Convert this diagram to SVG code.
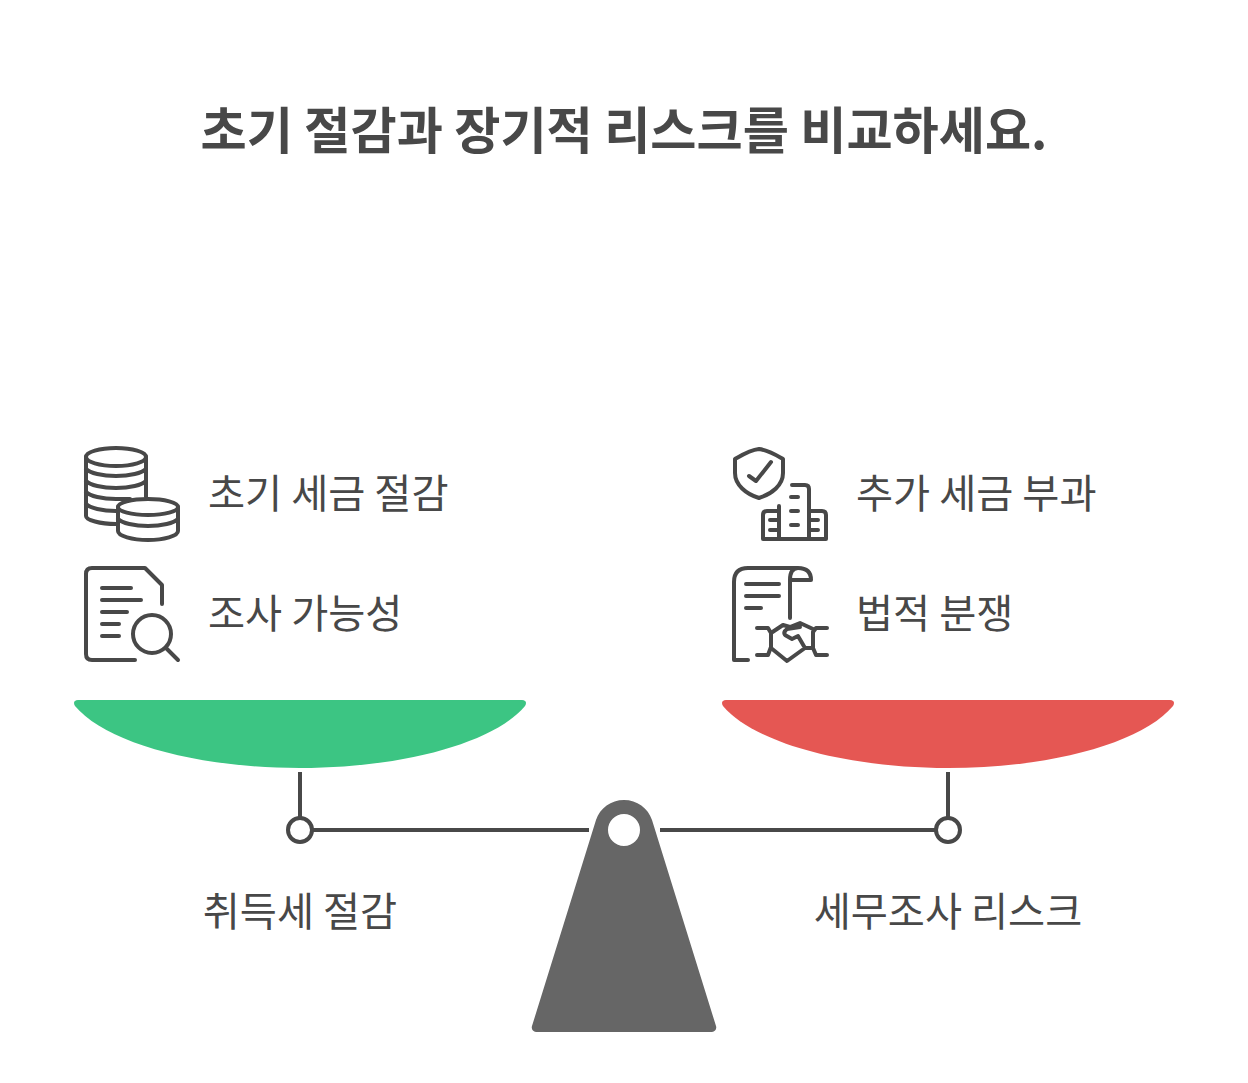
<svg xmlns="http://www.w3.org/2000/svg" width="1248" height="1083" viewBox="0 0 1248 1083">
<style>
text{font-family:"Noto Sans CJK KR","Noto Sans",sans-serif;fill:#484848;opacity:.995}
.t{font-size:50.2px;font-weight:700;text-anchor:middle}
.l{font-size:40.3px}
.c{text-anchor:middle}
.i{fill:none;stroke:#484848;stroke-width:4;stroke-linecap:round;stroke-linejoin:round}
.w{fill:none;stroke:#484848;stroke-width:4}
</style>
<rect width="1248" height="1083" fill="#fff"/>
<text id="title" class="t" x="624" y="149">초기 절감과 장기적 리스크를 비교하세요.</text>
<g id="connectors">
<path class="w" d="M300 772V818M312 830H589M660 830H936M948 772V818"/>
</g>
<g id="pan-left"><path fill="#3CC583" d="M78 700H522C526 700 527 703 525 706C495 742 405 768 300 768C195 768 105 742 75 706C73 703 74 700 78 700Z"/></g>
<g id="pan-right"><path fill="#E55753" d="M726 700H1170C1174 700 1175 703 1173 706C1143 742 1053 768 948 768C843 768 753 742 723 706C721 703 722 700 726 700Z"/></g>
<g id="pivot-left"><circle class="w" cx="300" cy="830" r="12" fill="#fff"/></g>
<g id="pivot-right"><circle class="w" cx="948" cy="830" r="12" fill="#fff"/></g>
<g id="fulcrum"><path fill="#666" fill-rule="evenodd" d="M596 820C600 808 611 800 624 800C637 800 648 808 652 820L716 1026C717 1029 715 1032 712 1032H536C533 1032 531 1029 532 1026ZM640 830A16 16 0 1 0 608 830A16 16 0 1 0 640 830Z"/></g>
<g id="icon-coins" class="i">
<ellipse cx="116" cy="457" rx="30" ry="9"/>
<path d="M86 457V516C86 520 100 524 116 524M86 469C90 473 102 476 116 476S142 473 146 469M86 481C90 485 102 488 116 488S142 485 146 481M86 492C90 496 102 499 116 499H130M86 504C90 508 102 511 116 511M146 457V497"/>
<ellipse cx="148" cy="507" rx="30" ry="8"/>
<path d="M118 507V531C118 536 132 540 148 540S178 536 178 531V507M118 519C122 523 134 526 148 526S174 523 178 519"/>
</g>
<g id="icon-doc" class="i">
<path d="M135 660H92Q86 660 86 654V574Q86 568 92 568H145L162 585V604"/>
<path d="M102 588H131M102 600H141M102 612H127M102 624H119M102 636H119"/>
<circle cx="152" cy="634" r="19"/><path d="M166 648L178 660"/>
</g>
<g id="icon-shield" class="i">
<path d="M735 459C742 455 750 450 759 449C768 450 776 455 783 459V473C783 485 772 494 759 498C746 494 735 485 735 473Z"/>
<path d="M749 476L756 481L771 462"/>
<path d="M792 485H805Q809 485 809 489V539M779 506V539M763 539H826V515Q826 511 822 511H810M779 511H767Q763 511 763 515V539"/>
<path d="M791 497H798M791 511H798M791 525H798M770 520H777M770 530H777M811 520H818M811 530H818"/>
</g>
<g id="icon-scroll" class="i">
<path d="M748 660H734V582Q734 568 748 568H798Q811 568 811 580H790M790 618V580Q790 568 798 568"/>
<path d="M746 584H779M746 596H779M746 608H761"/>
<path d="M757 628H768L771 633V647L768 655H757M827 628H816L813 632V648L816 655H827"/>
<path d="M771 633L783 625L790 627L800 623L813 629M800 627L787 629Q783 632 785 635L792 639L798 636L805 648H813M771 648L787 661L805 648"/>
</g>
<text id="label-1" class="l" x="208" y="508">초기 세금 절감</text>
<text id="label-2" class="l" x="208" y="628">조사 가능성</text>
<text id="label-3" class="l" x="856" y="508">추가 세금 부과</text>
<text id="label-4" class="l" x="856" y="628">법적 분쟁</text>
<text id="label-5" class="l c" x="300" y="926">취득세 절감</text>
<text id="label-6" class="l c" x="948" y="926">세무조사 리스크</text>
</svg>
